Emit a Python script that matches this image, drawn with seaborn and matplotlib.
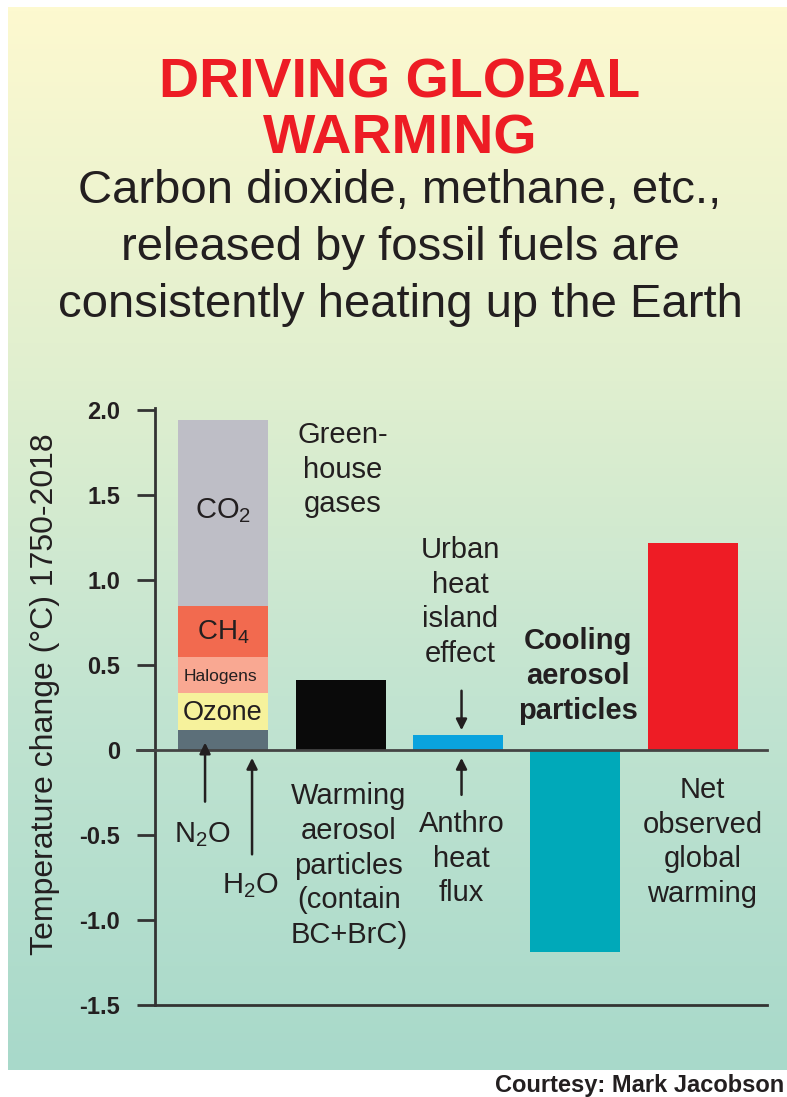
import numpy as np
import pandas as pd
import seaborn as sns
import matplotlib.pyplot as plt
from matplotlib import font_manager
from matplotlib.colors import LinearSegmentedColormap

# stacked greenhouse-gas bar, bottom to top
gas_names = ["N2O/H2O", "Ozone", "Halogens", "CH4", "CO2"]
gas_values = [0.12, 0.215, 0.21, 0.305, 1.09]
gas_colors = ["#5c6f79", "#f6f29c", "#f9a892", "#f26a4f", "#bebec6"]

# all categories along x; the first is the stacked bar
categories = ["Greenhouse gases", "Warming aerosol particles", "Urban heat island",
              "Cooling aerosol particles", "Net observed global warming"]
single_cats = categories[1:]
single_values = [0.41, 0.09, -1.19, 1.22]
single_colors = ["#0a0a0a", "#0aa3de", "#00a9b9", "#ee1c25"]

yticks = [2.0, 1.5, 1.0, 0.5, 0, -0.5, -1.0, -1.5]
ytick_labels = ["2.0", "1.5", "1.0", "0.5", "0", "-0.5", "-1.0", "-1.5"]

installed = {f.name for f in font_manager.fontManager.ttflist}
narrow = "Liberation Sans Narrow" if "Liberation Sans Narrow" in installed else "Liberation Sans"
plt.rcParams["font.family"] = ["Liberation Sans", "DejaVu Sans"]
plt.rcParams["mathtext.default"] = "regular"
txt = "#231f20"

fig = plt.figure(figsize=(7.87, 10.97), dpi=100)

# gradient panel behind everything
bg = fig.add_axes([8 / 787, 1 - 1070 / 1097, 779 / 787, 1063 / 1097], zorder=-5)
cmap = LinearSegmentedColormap.from_list(
    "panel", [(0, "#fdf9d0"), (0.35, "#e0efcf"), (0.65, "#c2e4d1"), (1, "#a8d9ca")])
bg.imshow(np.linspace(0, 1, 256).reshape(-1, 1), aspect="auto", cmap=cmap,
          extent=[0, 1, 1, 0])
bg.set_axis_off()

ax = fig.add_axes([155 / 787, 1 - 1005 / 1097, 612 / 787, 597 / 1097])
ax.set_facecolor("none")

bw = 0.766
# stacked bar: draw cumulative totals from the top layer down
cum = np.cumsum(gas_values)
for total, col in zip(cum[::-1], gas_colors[::-1]):
    sns.barplot(x=[categories[0]], y=[total], order=categories, color=col,
                width=bw, saturation=1, errorbar=None, linewidth=0, ax=ax)

df = pd.DataFrame({"cat": single_cats, "val": single_values})
sns.barplot(data=df, x="cat", y="val", hue="cat", order=categories,
            hue_order=single_cats, palette=single_colors, width=bw,
            saturation=1, errorbar=None, linewidth=0, legend=False, ax=ax)

ax.set_xlim(-0.579, 4.63)
ax.set_ylim(-1.5, 2.012)
ax.set_xticks([])
ax.set_xlabel("")
ax.set_ylabel("")
ax.set_yticks(yticks)
ax.set_yticklabels(ytick_labels, fontweight="bold", color=txt)
ax.tick_params(axis="y", length=13, width=2, color="#333333", pad=12, labelsize=17)
for s in ["top", "right"]:
    ax.spines[s].set_visible(False)
for s in ["left", "bottom"]:
    ax.spines[s].set_linewidth(2)
    ax.spines[s].set_color("#333333")
ax.axhline(0, xmin=-0.03, xmax=1, color="#444444", lw=2, clip_on=False, zorder=5)

fig.text(45 / 787, 1 - 694 / 1097, "Temperature change (°C) 1750-2018", family=narrow,
         rotation=90, ha="center", va="center", fontsize=27 if narrow != "Liberation Sans" else 23,
         color=txt)

# labels inside the stacked bar
ax.text(0.0, 1.41, "CO$_2$", ha="center", va="center", fontsize=21, color=txt)
ax.text(0.0, 0.69, "CH$_4$", ha="center", va="center", fontsize=20, color=txt)
ax.text(-0.02, 0.43, "Halogens", ha="center", va="center", fontsize=12.5, color=txt)
ax.text(0.0, 0.22, "Ozone", ha="center", va="center", fontsize=19.5, color=txt)

kw = dict(ha="center", va="center", fontsize=21, color=txt, linespacing=1.3, clip_on=False)
ax.text(1.02, 1.65, "Green-\nhouse\ngases", **kw)
ax.text(2.02, 0.87, "Urban\nheat\nisland\neffect", **kw)
ax.text(3.02, 0.435, "Cooling\naerosol\nparticles", fontweight="bold", **kw)
ax.text(1.07, -0.68, "Warming\naerosol\nparticles\n(contain\nBC+BrC)", **kw)
ax.text(2.03, -0.64, "Anthro\nheat\nflux", **kw)
ax.text(4.08, -0.54, "Net\nobserved\nglobal\nwarming", **kw)
ax.text(-0.18, -0.50, "N$_2$O", **kw)
ax.text(0.23, -0.80, "H$_2$O", **kw)

arrow = dict(arrowstyle="-|>", color="#231f20", lw=1.8, mutation_scale=16)
for x0, y0, y1 in [(-0.153, -0.32, 0.06), (0.247, -0.63, -0.03),
                   (2.03, 0.365, 0.10), (2.03, -0.28, -0.03)]:
    ax.annotate("", xy=(x0, y1), xytext=(x0, y0), arrowprops=arrow, zorder=6)

red = "#ed1c24"
tkw = dict(ha="center", va="baseline", family=narrow, fontweight="bold", color=red,
           fontsize=48 if narrow != "Liberation Sans" else 40)
fig.text(400 / 787, 1 - 98 / 1097, "DRIVING GLOBAL", **tkw)
fig.text(400 / 787, 1 - 153 / 1097, "WARMING", **tkw)

skw = dict(ha="center", va="baseline", fontsize=34, color=txt)
fig.text(400 / 787, 1 - 203 / 1097, "Carbon dioxide, methane, etc.,", **skw)
fig.text(400 / 787, 1 - 260 / 1097, "released by fossil fuels are", **skw)
fig.text(400 / 787, 1 - 317 / 1097, "consistently heating up the Earth", **skw)

fig.text(495 / 787, 1 - 1092 / 1097, "Courtesy: Mark Jacobson", ha="left", va="baseline",
         fontsize=17, fontweight="bold", color=txt)

fig.savefig("out.png", dpi=100)
